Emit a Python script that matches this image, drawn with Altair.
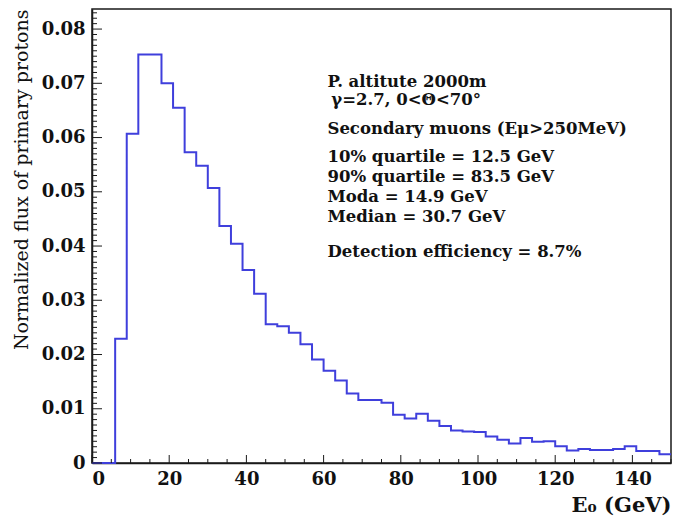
import altair as alt
import pandas as pd

# Histogram: 3 GeV bins from 0 to 150 GeV (lower bin edges) and bin contents
bin_edges = list(range(0, 153, 3))
bin_values = [
    0.0, 0.0, 0.0229, 0.0607, 0.0753, 0.0753, 0.0700, 0.0655, 0.0573, 0.0548,
    0.0507, 0.0437, 0.0404, 0.0356, 0.0312, 0.0256, 0.0252, 0.0240, 0.0219, 0.0191,
    0.0170, 0.0152, 0.0128, 0.0116, 0.0116, 0.0111, 0.0089, 0.0082, 0.0091, 0.0078,
    0.0068, 0.0060, 0.0058, 0.0057, 0.0049, 0.0043, 0.0036, 0.0046, 0.0039, 0.0040,
    0.0031, 0.0023, 0.0026, 0.0024, 0.0024, 0.0026, 0.0031, 0.0022, 0.0022, 0.0016,
]

x_major = [0, 20, 40, 60, 80, 100, 120, 140]
x_minor = [v for v in range(0, 151, 5) if v % 20 != 0]
y_major = [0.0, 0.01, 0.02, 0.03, 0.04, 0.05, 0.06, 0.07, 0.08]
y_minor = [round(i * 0.001, 3) for i in range(0, 84) if i % 10 != 0]

note_lines = [
    "P. altitute 2000m",
    "γ=2.7, 0<Θ<70°",
    "Secondary muons (Eμ>250MeV)",
    "10% quartile = 12.5 GeV",
    "90% quartile = 83.5 GeV",
    "Moda = 14.9 GeV",
    "Median = 30.7 GeV",
    "Detection efficiency = 8.7%",
]
note_y = [0.0703, 0.0670, 0.0615, 0.0564, 0.0528, 0.0491, 0.0454, 0.0389]
note_x = [61.0, 62.0, 61.0, 61.0, 61.0, 61.0, 61.0, 61.0]

X_MAX = 150
Y_MAX = 0.0837
W, H = 579, 454
FONT = "DejaVu Serif"
LINE_COLOR = "#3f3fdc"
FRAME = "#1a1a1a"

hist_df = pd.DataFrame({
    "E": bin_edges,
    "flux": bin_values + [bin_values[-1]],
})

xs = alt.Scale(domain=[0, X_MAX], nice=False, zero=False)
ys = alt.Scale(domain=[0, Y_MAX], nice=False)

hist = alt.Chart(hist_df).mark_line(
    interpolate="step-after", color=LINE_COLOR, strokeWidth=2
).encode(
    x=alt.X("E:Q", scale=xs, axis=alt.Axis(
        values=x_major, ticks=False, grid=False, title="E₀ (GeV)",
        titleAnchor="end", titleAlign="right", titleFontSize=21,
        titlePadding=6, labelPadding=7, domainColor=FRAME, domainWidth=1.5,
    )),
    y=alt.Y("flux:Q", scale=ys, axis=alt.Axis(
        values=y_major, ticks=False, grid=False,
        title="Normalized flux of primary protons",
        titleAnchor="end", titleAlign="right", titleFontSize=19, titleFontWeight="normal",
        titlePadding=10, labelPadding=7, domainColor=FRAME, domainWidth=1.5,
        labelExpr="datum.value == 0 ? '0' : format(datum.value, '.2f')",
    )),
)

ymaj = alt.Chart(pd.DataFrame({"v": y_major})).mark_rule(color=FRAME, strokeWidth=1).encode(
    y=alt.Y("v:Q", scale=ys), x=alt.value(0), x2=alt.value(10))
ymin = alt.Chart(pd.DataFrame({"v": y_minor})).mark_rule(color=FRAME, strokeWidth=1).encode(
    y=alt.Y("v:Q", scale=ys), x=alt.value(0), x2=alt.value(5))
xmaj = alt.Chart(pd.DataFrame({"v": x_major})).mark_rule(color=FRAME, strokeWidth=1).encode(
    x=alt.X("v:Q", scale=xs), y=alt.value(H), y2=alt.value(H - 8))
xmin = alt.Chart(pd.DataFrame({"v": x_minor})).mark_rule(color=FRAME, strokeWidth=1).encode(
    x=alt.X("v:Q", scale=xs), y=alt.value(H), y2=alt.value(H - 4))

notes = alt.Chart(pd.DataFrame({"t": note_lines, "y": note_y, "x": note_x})).mark_text(
    align="left", baseline="middle", font=FONT, fontWeight="bold", fontSize=16.5, color="#111"
).encode(x=alt.X("x:Q", scale=xs), y=alt.Y("y:Q", scale=ys), text="t:N")

chart = alt.layer(hist, ymin, ymaj, xmin, xmaj, notes).properties(
    width=W, height=H,
    autosize=alt.AutoSizeParams(type="none"),
    padding={"left": 84, "top": 1, "right": 1, "bottom": 60},
).configure_view(
    stroke=FRAME, strokeWidth=1.5
).configure_axis(
    labelFont=FONT, labelFontWeight="bold", labelFontSize=18, labelColor="#111",
    titleFont=FONT, titleFontWeight="bold", titleColor="#111",
)

chart.save("out.html", embed_options={"renderer": "svg", "actions": False})
